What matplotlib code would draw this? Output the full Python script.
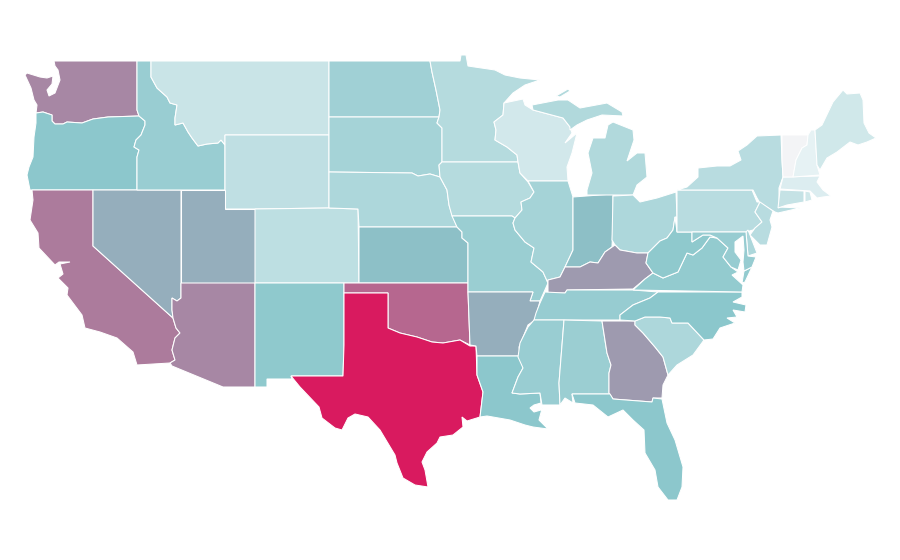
import matplotlib
matplotlib.use("Agg")
from matplotlib import pyplot as plt
from matplotlib.colors import LinearSegmentedColormap

states = ["WA","OR","CA","NV","ID","MT","WY","UT","AZ","CO","NM","ND","SD","NE","KS","OK","TX",
          "MN","IA","MO","AR","LA","WI","IL","IN","MI","OH","KY","TN","MS","AL","GA","FL","SC",
          "NC","VA","WV","PA","NY","NJ","DE","MD","CT","RI","MA","VT","NH","ME"]
values = [.68,.49,.715,.57,.428,.203,.247,.57,.683,.256,.476,.395,.371,.333,.517,.776,1.0,
          .294,.294,.423,.57,.49,.16,.371,.52,.313,.333,.628,.438,.428,.419,.628,.49,.333,
          .495,.457,.476,.28,.28,.28,.333,.438,.218,.165,.108,.0,.06,.165]

WA = [(54,61),(137,61),(137,110),(139,116),(108,117),(93,119),(82,123),(67,122),(63,124),(55,124),
      (52,121),(52,115),(43,112),(36,113),(37,105),(34,100),(31,88),(25,75),(27,73),(40,77),(47,78),
      (53,76),(52,84),(47,90),(49,96),(55,93),(60,80),(58,70),(55,66)]
OR = [(36,113),(43,112),(52,115),(52,121),(55,124),(63,124),(67,122),(82,123),(93,119),(108,117),
      (139,116),(145,121),(145,125),(141,135),(136,140),(134,147),(139,150),(137,157),(137,190),
      (30,190),(27,175),(29,167),(33,157),(34,137),(36,123)]
CA = [(32,190),(93,190),(93,246),(173,318),(176,328),(180,333),(175,338),(172,350),(175,360),(170,363),
      (137,365),(133,352),(117,338),(100,332),(85,328),(82,315),(67,295),(68,288),(58,278),(63,274),
      (60,264),(70,262),(59,262),(55,265),(39,248),(38,233),(30,220),(33,200)]
NV = [(93,190),(181,190),(181,298),(177,301),(172,298),(172,310),(173,318),(93,246)]
ID = [(137,61),(151,61),(151,77),(157,88),(167,97),(170,103),(177,105),(175,118),(175,125),(183,123),
      (188,132),(192,138),(198,146),(207,144),(218,143),(221,140),(225,145),(225,190),(137,190),(137,157),
      (139,150),(134,147),(136,140),(141,135),(145,125),(145,121),(139,116),(137,110)]
MT = [(151,61),(329,61),(329,135),(225,135),(225,145),(221,140),(218,143),(207,144),(198,146),(192,138),
      (188,132),(183,123),(175,125),(175,118),(177,105),(170,103),(167,97),(157,88),(151,77)]
WY = [(225,135),(329,135),(329,208),(255,209),(225,209)]
UT = [(181,190),(225,190),(225,209),(255,209),(255,283),(181,283)]
AZ = [(181,283),(255,283),(255,387),(223,387),(172,366),(170,363),(175,360),(172,350),(175,338),(180,333),
      (176,328),(173,318),(172,310),(172,298),(177,301),(181,298)]
CO = [(255,209),(329,208),(358,209),(359,283),(255,283)]
NM = [(255,283),(344,283),(344,345),(343,376),(291,376),(292,379),(267,379),(267,387),(255,387)]
ND = [(329,61),(430,61),(432,72),(436,90),(440,110),(439,117),(329,117)]
SD = [(329,117),(439,117),(437,123),(442,128),(442,162),(439,165),(440,177),(430,174),(418,176),(412,173),(329,172)]
NE = [(329,172),(412,173),(418,176),(430,174),(440,177),(447,190),(449,205),(452,215),(457,227),(359,227),(358,209),(329,208)]
KS = [(359,227),(457,227),(462,232),(462,238),(468,243),(468,283),(359,283)]
OK = [(344,283),(468,283),(468,292),(470,345),(460,340),(443,343),(432,342),(423,339),(417,337),(400,333),
      (388,328),(388,293),(344,293)]
TX = [(344,293),(388,293),(388,328),(400,333),(417,337),(423,339),(432,342),(443,343),(460,340),(470,346),
      (476,346),(477,375),(483,392),(480,417),(467,421),(462,417),(463,427),(453,435),(440,437),(437,443),
      (427,452),(422,462),(425,470),(428,487),(415,485),(403,478),(397,463),(395,455),(380,430),(368,417),
      (355,414),(348,418),(342,430),(335,428),(322,418),(319,407),(300,387),(291,376),(343,376),(344,345)]
MN = [(430,61),(460,61),(461,55),(466,55),(468,66),(495,70),(505,75),(520,78),(540,80),(525,85),(513,93),
      (504,103),(503,115),(494,122),(496,130),(495,140),(507,147),(517,155),(518,162),(442,162),(442,128),
      (437,123),(439,117),(440,110),(436,90),(432,72)]
IA = [(442,162),(518,162),(520,173),(528,182),(534,192),(530,198),(521,202),(522,210),(515,218),(512,216),
      (452,216),(449,205),(447,190),(440,177),(439,165)]
MO = [(452,216),(512,216),(515,218),(513,223),(515,230),(525,242),(534,248),(531,262),(543,272),(548,283),
      (540,301),(530,301),(533,292),(468,292),(468,243),(462,238),(462,232),(457,227)]
AR = [(468,292),(533,292),(530,301),(540,301),(535,320),(528,325),(519,347),(520,356),(477,356),(476,346),(470,345)]
LA = [(477,356),(520,356),(523,368),(518,377),(512,393),(520,394),(540,393),(541,403),(534,405),(530,408),(534,412),
      (541,410),(543,405),(539,420),(548,429),(533,427),(525,425),(510,420),(487,416),(480,417),(483,392),(477,375)]
WI = [(504,103),(523,99),(525,105),(533,110),(563,118),(570,127),(572,133),(565,143),(577,133),(572,153),
      (567,167),(568,181),(528,181),(520,173),(518,162),(517,155),(507,147),(495,140),(496,130),(494,122),(503,115)]
IL = [(528,181),(568,181),(573,197),(573,250),(565,267),(560,277),(548,280),(548,283),(543,272),(531,262),
      (534,248),(525,242),(515,230),(513,223),(515,218),(522,210),(521,202),(530,198),(534,192)]
IN = [(573,197),(613,194),(613,223),(612,247),(605,252),(598,263),(590,262),(580,267),(565,267),(573,250)]
MI_lower = [(587,195),(633,195),(637,185),(647,177),(645,153),(637,153),(627,161),(634,140),(633,130),(613,122),
            (608,125),(605,138),(593,138),(588,153),(592,173),(587,190)]
MI_upper = [(532,105),(558,100),(568,100),(580,108),(607,103),(622,112),(623,116),(602,115),(587,120),(577,125),
            (570,130),(570,127),(563,118),(533,110)]
MI_isle = [(556,96),(568,89),(570,91),(560,97)]
OH = [(613,196),(633,195),(640,202),(657,198),(676,192),(677,217),(675,217),(673,230),(667,238),(660,241),
      (648,253),(642,253),(637,253),(620,250),(615,245),(612,240)]
KY = [(548,280),(560,277),(565,267),(580,267),(590,262),(598,263),(605,252),(615,245),(620,250),(637,253),
      (648,253),(646,263),(653,273),(645,279),(633,289),(567,290),(565,293),(548,293)]
TN = [(545,292),(565,293),(567,290),(633,290),(658,292),(650,298),(633,305),(620,315),(620,320),(534,320),(536,313),(540,303)]
MS = [(534,320),(564,320),(559,383),(560,405),(553,405),(542,405),(540,393),(520,394),(512,393),(518,377),
      (523,368),(518,357),(520,343),(528,327)]
AL = [(564,320),(602,321),(607,353),(611,365),(609,373),(609,393),(610,394),(572,394),(573,403),(565,398),(560,405),(559,383)]
GA = [(602,321),(635,321),(635,325),(643,333),(655,347),(663,357),(668,375),(663,385),(662,398),(653,398),(652,402),
      (613,399),(609,393),(609,373),(611,365),(607,353)]
FL = [(572,394),(610,394),(613,399),(652,402),(653,398),(662,399),(667,423),(675,440),(683,467),(682,487),(677,500),
      (668,500),(658,487),(655,470),(645,453),(644,430),(633,420),(623,410),(608,417),(593,405),(575,403)]
SC = [(635,321),(645,317),(660,317),(670,318),(672,323),(688,323),(704,340),(693,355),(677,365),(668,375),(663,357),
      (655,347),(643,333),(635,325)]
NC = [(658,292),(742,292),(742,297),(733,302),(746,305),(745,312),(733,310),(737,317),(727,318),(735,323),(720,328),
      (713,339),(704,340),(688,323),(672,323),(670,318),(660,317),(645,317),(635,321),(620,320),(620,315),(633,305),(650,298)]
VA = [(633,290),(645,279),(653,273),(663,278),(678,272),(687,253),(693,255),(702,248),(710,237),(717,238),(728,248),
      (723,257),(731,267),(738,272),(732,275),(743,285),(742,292)]
VA_shore = [(744,271),(752,267),(745,282),(742,283)]
WV = [(653,273),(646,263),(648,253),(660,241),(667,238),(673,230),(675,217),(677,232),(692,232),(692,242),(703,235),
      (710,235),(717,238),(710,237),(702,248),(693,255),(687,253),(678,272),(663,278)]
PA = [(677,190),(752,190),(757,202),(760,202),(755,212),(762,222),(753,230),(746,232),(677,232)]
NY = [(677,190),(687,187),(698,177),(698,168),(717,166),(730,166),(741,160),(738,151),(747,145),(757,136),(781,135),
      (782,160),(783,177),(779,188),(779,207),(800,208),(778,213),(775,212),(760,203),(757,198),(753,190)]
NJ = [(760,202),(773,211),(770,220),(772,227),(767,245),(760,245),(750,235),(755,228),(762,222),(755,212)]
DE = [(746,232),(748,230),(750,235),(757,253),(748,256)]
MD = [(692,232),(746,232),(748,256),(756,257),(752,267),(744,271),(743,262),(744,250),(743,236),(735,242),(735,252),
      (741,260),(738,270),(731,267),(723,257),(728,248),(717,238),(710,235),(703,235),(692,242)]
CT = [(780,190),(804,191),(804,202),(787,205),(778,208)]
RI = [(805,191),(810,192),(812,200),(805,202)]
MA = [(783,177),(820,176),(817,182),(823,190),(831,196),(823,197),(817,198),(810,191),(780,189)]
VT = [(782,135),(808,135),(807,145),(802,148),(796,160),(793,177),(783,177),(782,160)]
NH = [(808,135),(811,130),(815,130),(817,165),(820,175),(793,177),(796,160),(802,148),(807,145)]
ME = [(815,130),(822,125),(833,102),(843,90),(847,94),(860,93),(863,100),(864,123),(869,133),(876,138),(867,142),
      (858,145),(850,142),(837,152),(827,158),(820,170),(817,165)]

outlines = {"WA":[WA],"OR":[OR],"CA":[CA],"NV":[NV],"ID":[ID],"MT":[MT],"WY":[WY],"UT":[UT],"AZ":[AZ],"CO":[CO],
            "NM":[NM],"ND":[ND],"SD":[SD],"NE":[NE],"KS":[KS],"OK":[OK],"TX":[TX],"MN":[MN],"IA":[IA],"MO":[MO],
            "AR":[AR],"LA":[LA],"WI":[WI],"IL":[IL],"IN":[IN],"MI":[MI_lower,MI_upper,MI_isle],"OH":[OH],"KY":[KY],
            "TN":[TN],"MS":[MS],"AL":[AL],"GA":[GA],"FL":[FL],"SC":[SC],"NC":[NC],"VA":[VA,VA_shore],"WV":[WV],
            "PA":[PA],"NY":[NY],"NJ":[NJ],"DE":[DE],"MD":[MD],"CT":[CT],"RI":[RI],"MA":[MA],"VT":[VT],"NH":[NH],"ME":[ME]}

# scala: quasi bianco -> verde acqua -> cremisi
cmap = LinearSegmentedColormap.from_list("scala", [(0,"#f3f4f6"),(.06,"#e6f2f4"),(.5,"#8ac6cb"),(1,"#d91a5f")])

fig = plt.figure(figsize=(9,5.6), dpi=100)
ax = fig.add_axes([0,0,1,1])
for name, val in zip(states, values):
    for part in outlines[name]:
        xs = [p[0] for p in part]
        ys = [p[1] for p in part]
        ax.fill(xs, ys, facecolor=cmap(val), edgecolor="white", linewidth=0.75)
ax.set_xlim(0,900)
ax.set_ylim(560,0)
ax.axis("off")
fig.savefig("out.png", dpi=100)
